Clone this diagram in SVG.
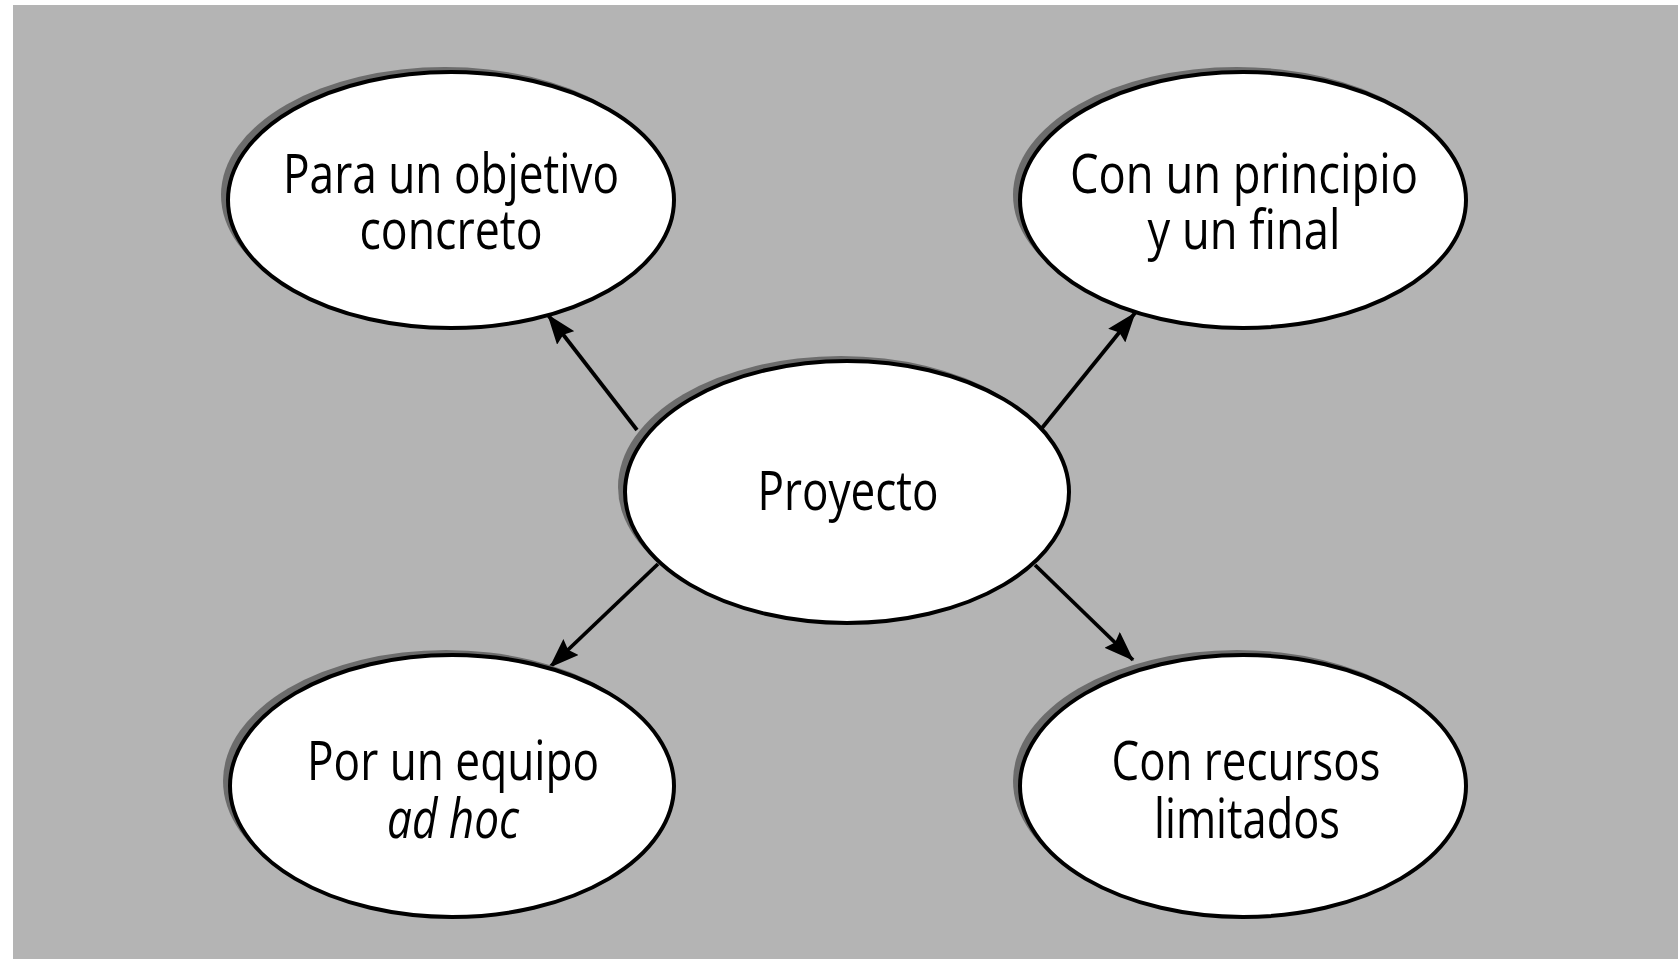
<svg xmlns="http://www.w3.org/2000/svg" width="1678" height="959" viewBox="0 0 1678 959">
  <defs>
    <style>
      .bg { fill: #b4b4b4; }
      .shadow { fill: #6c6c6c; }
      .node { fill: #ffffff; stroke: #000000; stroke-width: 4; }
      .label { font-family: "Open Sans", "Noto Sans", "Liberation Sans", sans-serif; font-size: 54px; fill: #000000; text-anchor: middle; }
      .it { font-style: italic; }
      .edge { stroke: #000000; stroke-width: 3.8; fill: none; }
    </style>
    <marker id="arrow" viewBox="0 0 30 22" refX="29" refY="11" markerWidth="30" markerHeight="22" markerUnits="userSpaceOnUse" orient="auto">
      <path d="M0,0 L30,11 L0,22 L4,11 z" fill="#000000"/>
    </marker>
  </defs>
  <rect class="bg" x="13" y="5" width="1665" height="954"/>

  <g id="connectors">
    <line class="edge" x1="637" y1="430" x2="548" y2="315" marker-end="url(#arrow)"/>
    <line class="edge" x1="1042" y1="428" x2="1135" y2="313" marker-end="url(#arrow)"/>
    <line class="edge" x1="658" y1="564" x2="550" y2="667" marker-end="url(#arrow)"/>
    <line class="edge" x1="1035" y1="565" x2="1133" y2="660" marker-end="url(#arrow)"/>
  </g>

  <g id="node-objetivo">
    <ellipse class="shadow" cx="445" cy="195" rx="224" ry="128"/>
    <ellipse class="node" cx="451" cy="200" rx="223" ry="128"/>
    <text class="label" x="451" y="193" textLength="336" lengthAdjust="spacingAndGlyphs">Para un objetivo</text>
    <text class="label" x="451" y="249" textLength="183" lengthAdjust="spacingAndGlyphs">concreto</text>
  </g>

  <g id="node-principio">
    <ellipse class="shadow" cx="1237" cy="195" rx="224" ry="128"/>
    <ellipse class="node" cx="1243" cy="200" rx="223" ry="128"/>
    <text class="label" x="1244" y="193" textLength="348" lengthAdjust="spacingAndGlyphs">Con un principio</text>
    <text class="label" x="1244" y="249" textLength="193" lengthAdjust="spacingAndGlyphs">y un final</text>
  </g>

  <g id="node-proyecto">
    <ellipse class="shadow" cx="841" cy="487" rx="223" ry="131"/>
    <ellipse class="node" cx="847" cy="492" rx="222" ry="131"/>
    <text class="label" x="848" y="510" textLength="181" lengthAdjust="spacingAndGlyphs">Proyecto</text>
  </g>

  <g id="node-equipo">
    <ellipse class="shadow" cx="446" cy="781" rx="223" ry="131"/>
    <ellipse class="node" cx="452" cy="786" rx="222" ry="131"/>
    <text class="label" x="453" y="780" textLength="292" lengthAdjust="spacingAndGlyphs">Por un equipo</text>
    <text class="label it" x="453" y="838" textLength="132" lengthAdjust="spacingAndGlyphs">ad hoc</text>
  </g>

  <g id="node-recursos">
    <ellipse class="shadow" cx="1237" cy="781" rx="224" ry="131"/>
    <ellipse class="node" cx="1243" cy="786" rx="223" ry="131"/>
    <text class="label" x="1246" y="780" textLength="269" lengthAdjust="spacingAndGlyphs">Con recursos</text>
    <text class="label" x="1247" y="838" textLength="186" lengthAdjust="spacingAndGlyphs">limitados</text>
  </g>
</svg>
